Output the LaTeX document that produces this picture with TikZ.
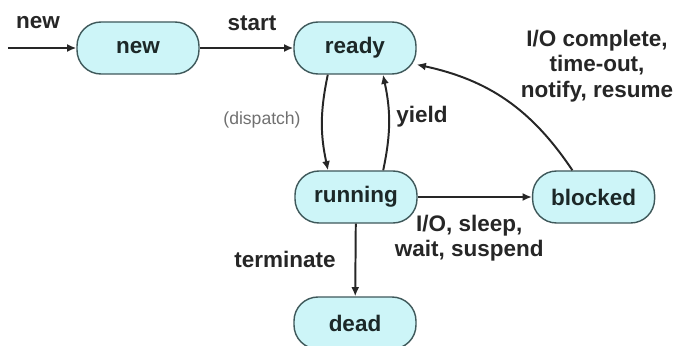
\documentclass[tikz,border=0pt]{standalone}
\usepackage{fontspec}
\setmainfont{Liberation Sans}
\usepackage{xcolor}
\usepackage{tikz}
\usetikzlibrary{arrows.meta,positioning}
\definecolor{statefill}{RGB}{205,245,248}
\definecolor{statedraw}{RGB}{62,88,90}
\definecolor{statetext}{RGB}{28,40,40}
\definecolor{lbltext}{RGB}{38,38,38}
\definecolor{lblgray}{RGB}{112,112,112}

\begin{document}
\begin{tikzpicture}[x=1cm,y=1cm,every node/.style={font=\fontsize{16}{18}\selectfont\bfseries},
state/.style={rounded corners=0.6cm,draw=statedraw,fill=statefill,line width=1pt,text=statetext,minimum width=3.05cm,minimum height=1.3cm},
lbl/.style={inner sep=0pt,text=lbltext,align=center},
arr/.style={-{Latex[length=2.3mm,width=2mm]},line width=1.4pt,draw=black!85}]
\useasboundingbox (0,0) rectangle (16.85,8.625);
\node[state] (new) at (3.45,7.425) {new};
\node[state] (ready) at (8.875,7.425) {ready};
\node[state] (running) at (8.9,3.7) {running};
\node[state] (blocked) at (14.84,3.7) {blocked};
\node[state] (dead) at (8.875,0.55) {dead};
\coordinate (entry) at (0.2,7.425);
\draw[arr] (entry) -- (new);
\draw[arr] (new) -- (ready);
\draw[arr] ([xshift=-0.68cm]ready.south) to[bend right=12] ([xshift=-0.7cm]running.north);
\draw[arr] ([xshift=0.68cm]running.north) to[bend right=12] ([xshift=0.7cm]ready.south);
\draw[arr] ([xshift=-0.53cm]blocked.north) to[bend right=22] (ready.-15);
\draw[arr] (running) -- (blocked);
\draw[arr] (running) -- (dead);
\node[lbl,anchor=base] (lnew) at (0.95,7.9) {new};
\node[lbl,anchor=base] (lstart) at (6.3,7.85) {start};
\node[lbl,anchor=base,text=lblgray,font=\fontsize{12.5}{14}\selectfont] (ldispatch) at (6.55,5.5) {(dispatch)};
\node[lbl,anchor=base] (lyield) at (10.55,5.55) {yield};
\node[lbl,anchor=north] (lwake) at (14.925,7.875) {I/O complete,\\time-out,\\notify, resume};
\node[lbl,anchor=north] (lwait) at (11.73,3.25) {I/O, sleep,\\wait, suspend};
\node[lbl,anchor=base] (lterm) at (7.125,1.925) {terminate};
\end{tikzpicture}
\end{document}
